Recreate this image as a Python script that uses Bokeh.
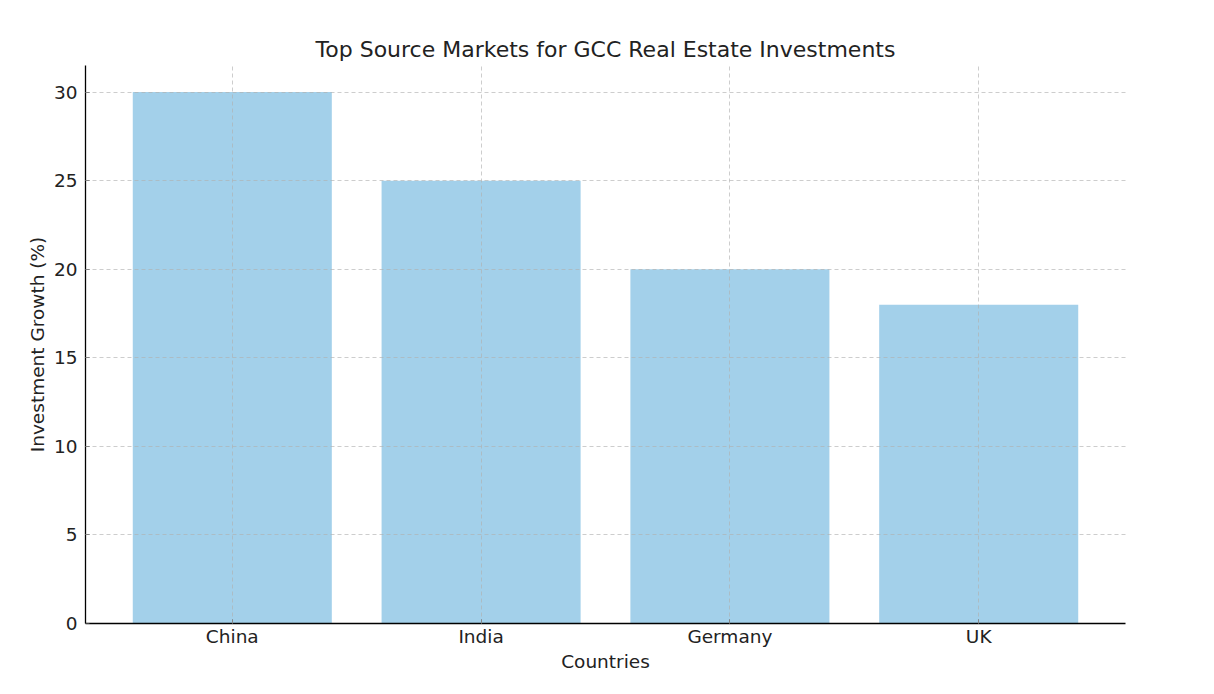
from bokeh.plotting import figure
from bokeh.models import FactorRange, Range1d, FixedTicker, ColumnDataSource
from bokeh.embed import file_html
from bokeh.resources import INLINE

countries = ["China", "India", "Germany", "UK"]
growth = [30, 25, 20, 18]
y_ticks = [0, 5, 10, 15, 20, 25, 30]

FONT = "DejaVu Sans"
source = ColumnDataSource(data=dict(country=countries, growth=growth))

p = figure(
    x_range=FactorRange(factors=countries, range_padding=0.045),
    y_range=Range1d(0, 31.5),
    width=1198, height=678,
    frame_width=1040, frame_height=558,
    min_border_left=85, min_border_right=73, min_border_top=65, min_border_bottom=55,
    output_backend="svg", toolbar_location=None,
    background_fill_color="white", border_fill_color="white",
)
p.outline_line_color = None

p.vbar(x="country", top="growth", width=0.8, source=source,
       fill_color="#a3d0ea", line_color=None)

p.title.text = "Top Source Markets for GCC Real Estate Investments"
p.title.align = "center"
p.title.text_font = FONT
p.title.text_font_size = "22px"
p.title.text_font_style = "normal"
p.title.text_color = "#222222"
p.title.standoff = 8

for ax in (p.xaxis[0], p.yaxis[0]):
    ax.axis_line_color = "black"
    ax.axis_line_width = 1.3
    ax.major_tick_in = 4
    ax.major_tick_out = 0
    ax.minor_tick_line_color = None
    ax.major_tick_line_color = "#444444"
    ax.major_label_text_font = FONT
    ax.major_label_text_font_size = "18.5px"
    ax.major_label_text_color = "#222222"
    ax.axis_label_text_font = FONT
    ax.axis_label_text_font_size = "18.5px"
    ax.axis_label_text_font_style = "normal"
    ax.axis_label_text_color = "#222222"

p.xaxis.axis_label = "Countries"
p.yaxis.axis_label = "Investment Growth (%)"
p.yaxis.ticker = FixedTicker(ticks=y_ticks)
p.xaxis.major_label_standoff = 2
p.yaxis.major_label_standoff = 8
p.xaxis.axis_label_standoff = 1
p.yaxis.axis_label_standoff = 3

for g in (p.xgrid[0], p.ygrid[0]):
    g.grid_line_color = "#b0b0b0"
    g.grid_line_alpha = 0.7
    g.grid_line_dash = "4 3"
    g.grid_line_width = 0.9
    g.level = "overlay"

p.ygrid.ticker = FixedTicker(ticks=y_ticks)

open("out.html", "w").write(file_html(p, INLINE))
